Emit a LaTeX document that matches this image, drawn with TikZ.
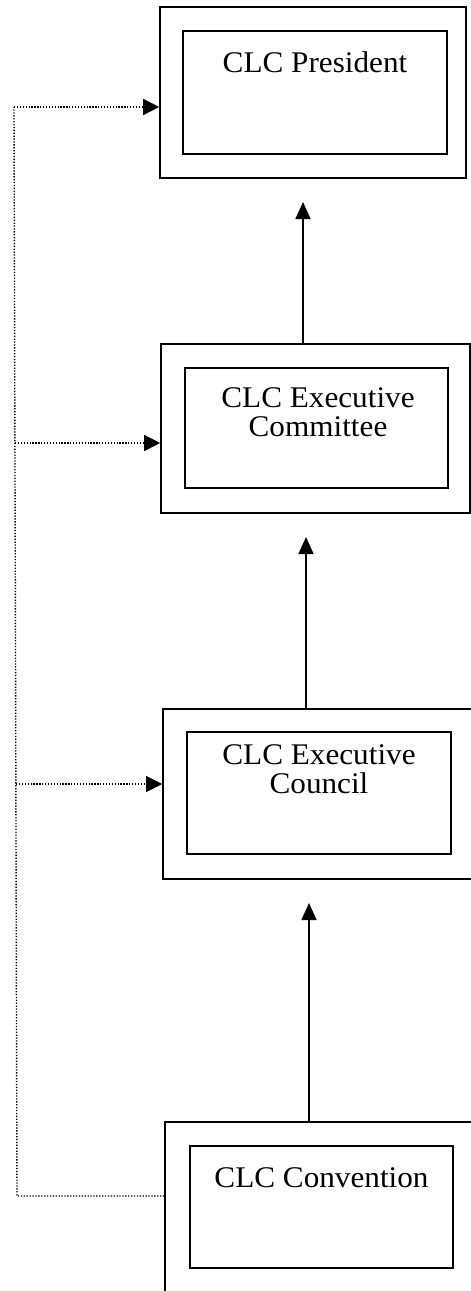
\documentclass[tikz,border=0pt]{standalone}
\usepackage{fontspec}
\setmainfont{Liberation Serif}[FakeStretch=1.04]
\usetikzlibrary{arrows.meta,fit}
\tikzset{
  outerbox/.style={draw, line width=1.6pt, inner sep=0pt, fit={#1}},
  innerbox/.style={draw, line width=1.6pt, inner sep=0pt, fit={#1}},
  lbl/.style={font=\fontsize{30}{29}\selectfont, align=center, inner sep=0pt, anchor=base},
  uparrow/.style={line width=1.5pt, -{Triangle[length=17pt,width=15pt]}},
  dotline/.style={line width=1.4pt, dash pattern=on 1.3pt off 1.6pt},
  dotarrow/.style={dotline, -{Triangle[length=16pt,width=16pt]}}
}
\begin{document}
\begin{tikzpicture}[x=1pt,y=-1pt]
\useasboundingbox (0,0) rectangle (471,1291);
\clip (0,0) rectangle (471,1291);
\fill[white] (0,0) rectangle (471,1291);
% boxes
\node[outerbox={(160,7) (466,178)}] (o1) {};
\node[innerbox={(183,31) (447,154)}] (i1) {};
\node[lbl] (t1) at (315,72) {CLC President};

\node[outerbox={(161,344) (470,513)}] (o2) {};
\node[innerbox={(185,368) (448,488)}] (i2) {};
\node[lbl] (t2) at (318,436) {CLC Executive\\Committee};

\node[outerbox={(163,709) (480,879)}] (o3) {};
\node[innerbox={(187,732) (451,854)}] (i3) {};
\node[lbl] (t3) at (319,793) {CLC Executive\\Council};

\node[outerbox={(165,1122) (480,1310)}] (o4) {};
\node[innerbox={(190,1146) (453,1268)}] (i4) {};
\node[lbl] (t4) at (321.5,1187) {CLC Convention};

% solid arrows
\coordinate (a1) at (303,202);
\coordinate (a2) at (306,537);
\coordinate (a3) at (309,903);
\draw[uparrow] (o2.north -| a1) -- (a1);
\draw[uparrow] (o3.north -| a2) -- (a2);
\draw[uparrow] (o4.north -| a3) -- (a3);

% dotted feedback lines
\coordinate (d1) at (14,107);
\coordinate (d2) at (15,443);
\coordinate (d3) at (16,784);
\coordinate (d4) at (17,1196);
\draw[dotline] (o4.west |- d4) -- (d4) -- (d1);
\draw[dotarrow] (d1) -- (d1 -| o1.west);
\draw[dotarrow] (d2) -- (d2 -| o2.west);
\draw[dotarrow] (d3) -- (d3 -| o3.west);
\end{tikzpicture}
\end{document}
